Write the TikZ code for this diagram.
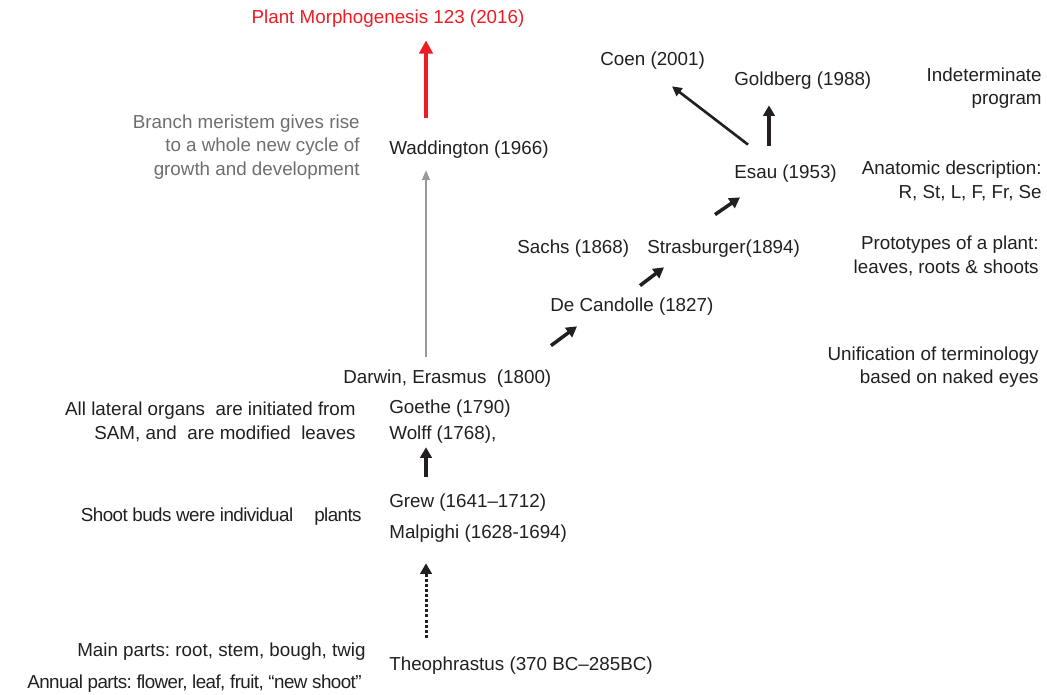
\documentclass[tikz,border=0pt]{standalone}
\usepackage{fontspec}
\setmainfont{Liberation Sans}
\usepackage{xcolor}
\usetikzlibrary{arrows.meta,calc,positioning}

\definecolor{ink}{HTML}{231F20}
\definecolor{hot}{HTML}{ED1C24}
\definecolor{soft}{HTML}{6D6E71}

\begin{document}
\frenchspacing
\begin{tikzpicture}[x=0.02cm, y=-0.02cm,
		  every node/.style={inner sep=0pt, text=ink, font=\fontsize{10.7pt}{13.3pt}\selectfont\frenchspacing},
          who/.style={text height=8pt, text depth=2.5pt},
          note/.style={align=right, anchor=east},
          tight/.style={font=\fontsize{10.7pt}{13.3pt}\selectfont\frenchspacing\addfontfeature{LetterSpace=-3}},
          to/.style={-{Triangle[length=6pt,width=6.5pt]}, line width=2pt, ink},
          thin to/.style={-{Triangle[length=5.5pt,width=5.5pt]}, line width=1.5pt, ink},
		]
			\useasboundingbox (0,0) rectangle (1047,695);
			\coordinate (axis) at (426,0);

			% names along the time line
			\node[who, anchor=base, text=hot] (journal) at (388,24) {Plant Morphogenesis 123 (2016)};
			\node[who, anchor=base west] (wadd) at (389,155) {Waddington (1966)};
			\node[who, anchor=base west] (coen) at (600,66) {Coen (2001)};
			\node[who, anchor=base west] (gold) at (734,86) {Goldberg (1988)};
			\node[who, anchor=base west] (esau) at (734,179) {Esau (1953)};
			\node[who, anchor=base west] (sachs) at (517,254) {Sachs (1868)};
			\node[who, anchor=base west] (stras) at (647,254) {Strasburger(1894)};
			\node[who, anchor=base west] (decand) at (550,312) {De Candolle (1827)};
			\node[who, anchor=base west] (darwin) at (343,384) {Darwin, Erasmus\ \ (1800)};
			\node[who, anchor=base west] (goethe) at (389,414) {Goethe (1790)};
			\node[who, anchor=base west] (wolff) at (389,439) {Wolff (1768),};
			\node[who, anchor=base west] (grew) at (389,507) {Grew (1641--1712)};
			\node[who, anchor=base west] (malp) at (389,538) {Malpighi (1628-1694)};
			\node[who, anchor=base west] (theo) at (389,670) {Theophrastus (370 BC--285BC)};

			% what each of them said
			\node[note, text=soft] (branch) at (360,147)
                {Branch meristem gives rise\\to a whole new cycle of\\growth and development};
			\node[note] (indet) at (1042,88) {Indeterminate\\program};
			\node[note] (anat) at (1042,181) {Anatomic description:\\R, St, L, F, Fr, Se};
			\node[note] (proto) at (1039,256) {Prototypes of a plant:\\leaves, roots \& shoots};
			\node[note] (unif) at (1039,367) {Unification of terminology\\based on naked eyes};
			\node[note] (lateral) at (356,422)
                {All lateral organs\ \ are initiated from\hspace{4pt}\\SAM, and\ \ are modified\ \ leaves};
			\node[who, tight, anchor=base east] (buds) at (362,521) {Shoot buds were individual\hspace{12pt}plants};
			\node[who, anchor=base east] (mainp) at (366,656) {Main parts: root, stem, bough, twig};
			\node[who, tight, anchor=base east] (annual) at (362,688) {Annual parts: flower, leaf, fruit, ``new shoot''};

			% arrows
			\draw[-{Triangle[length=7.5pt,width=7.5pt]}, line width=2.3pt, hot, shorten <=13pt, shorten >=6.6pt]
                (wadd.north -| axis) -- (journal.south -| axis);
			\draw[-{Triangle[length=5.5pt,width=4.5pt]}, line width=0.6pt, gray!80, shorten <=7.3pt, shorten >=6pt]
                (darwin.north -| axis) -- (wadd.south -| axis);
			\draw[to, shorten <=9pt, shorten >=2pt] (grew.north -| axis) -- (wolff.south -| axis);
			\draw[to, line width=1.7pt, dash pattern=on 1.7pt off 1.2pt, shorten <=10.1pt, shorten >=11.7pt]
                (theo.north -| axis) -- (malp.south -| axis);
			\draw[to] ($(darwin.north west)+(208,-24)$) -- ($(decand.south west)+(27,9.6)$);
			\draw[to] ($(decand.north west)+(90,-12)$) -- ($(stras.south west)+(17,8.6)$);
			\draw[to] ($(stras.north west)+(68,-25)$) -- ($(esau.south west)+(6,13.6)$);
			\draw[thin to] ($(esau.north west)+(14,-20)$) -- ($(coen.south west)+(72,15.6)$);
			\draw[to, line width=2.3pt] ($(esau.north west)+(35,-19)$) -- ($(gold.south west)+(35,14.6)$);

		 \end{tikzpicture}
\end{document}
